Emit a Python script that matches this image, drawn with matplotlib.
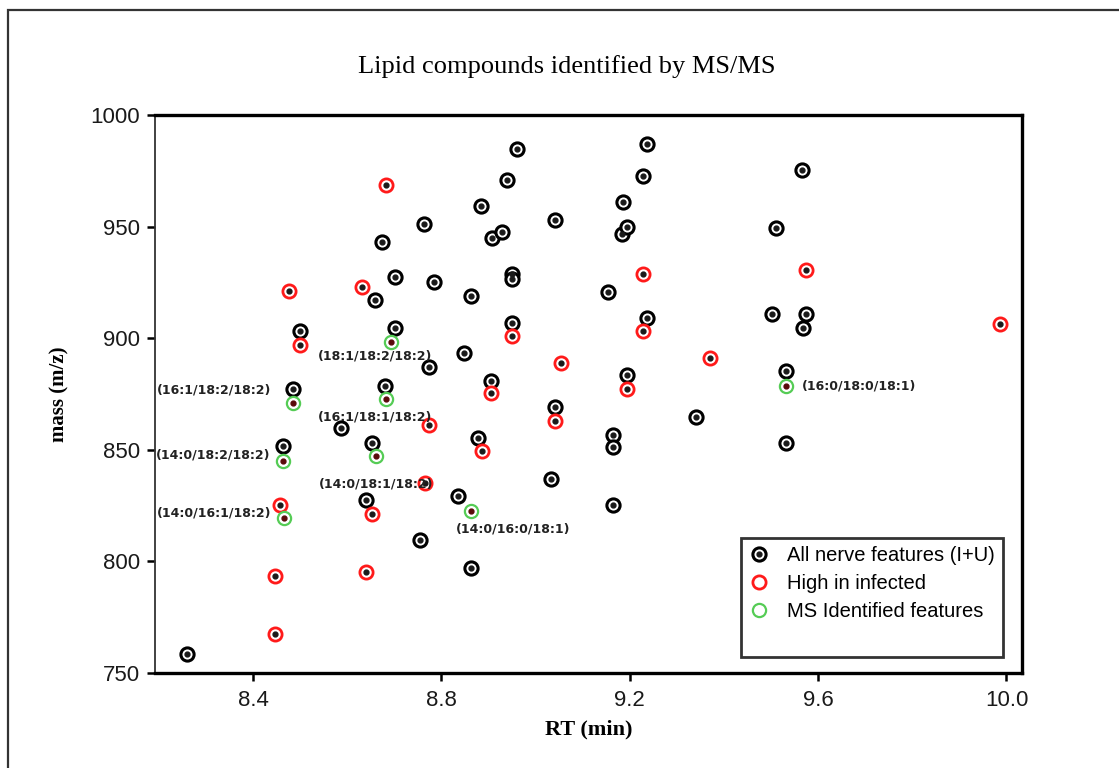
import matplotlib.pyplot as plt
from matplotlib.lines import Line2D
from matplotlib.patches import Rectangle

# all detected nerve features (RT in min, mass in m/z)
all_rt = [8.259, 8.499, 8.485, 8.464, 8.660, 8.674, 8.681, 8.702, 8.702, 8.764,
          8.785, 8.773, 8.754, 8.640, 8.652, 8.588, 8.848, 8.836, 8.864, 8.862,
          8.878, 8.885, 8.906, 8.907, 8.928, 8.940, 8.949, 8.949, 8.949, 8.961,
          9.032, 9.041, 9.041, 9.153, 9.164, 9.164, 9.164, 9.184, 9.186, 9.194,
          9.195, 9.228, 9.236, 9.236, 9.341, 9.503, 9.511, 9.531, 9.531, 9.566,
          9.575, 9.567]
all_mass = [758.5, 903.1, 877.2, 851.6, 917.3, 943.1, 878.7, 927.3, 904.7, 951.0,
            925.3, 887.1, 809.7, 827.4, 853.0, 859.6, 893.4, 829.2, 919.1, 796.9,
            855.2, 959.3, 880.9, 945.1, 947.7, 970.7, 928.8, 926.6, 906.8, 984.9,
            837.1, 952.9, 869.0, 920.8, 856.6, 851.1, 825.4, 946.7, 960.9, 883.4,
            949.7, 972.5, 986.9, 909.2, 864.6, 910.8, 949.4, 885.2, 853.0, 975.4,
            911.0, 904.7]

# features higher in infected nerves
inf_rt = [8.682, 8.477, 8.632, 8.499, 8.906, 8.773, 8.886, 8.766, 8.652, 8.457,
          8.949, 9.228, 9.228, 9.054, 9.371, 9.195, 9.041, 9.575, 9.987, 8.446,
          8.640, 8.446]
inf_mass = [968.8, 921.0, 922.8, 896.9, 875.4, 861.1, 849.3, 835.1, 821.1, 825.4,
            901.1, 928.9, 903.1, 888.8, 891.3, 877.1, 862.8, 930.6, 906.4, 793.3,
            795.1, 767.6]

# features identified by MS/MS
ms_rt = [8.694, 8.485, 8.682, 8.464, 8.661, 8.465, 8.864, 9.531]
ms_mass = [898.4, 871.0, 872.8, 845.1, 847.1, 819.4, 822.7, 878.7]
ms_labels = ["(18:1/18:2/18:2)", "(16:1/18:2/18:2)", "(16:1/18:1/18:2)",
             "(14:0/18:2/18:2)", "(14:0/18:1/18:2)", "(14:0/16:1/18:2)",
             "(14:0/16:0/18:1)", "(16:0/18:0/18:1)"]
# where each label sits relative to its point (points, alignment)
label_pos = [(-12, -10, "center"), (-16, 9, "right"), (-8, -13, "center"),
             (-9, 4, "right"), (0, -20, "center"), (-9, 4, "right"),
             (30, -13, "center"), (12, 0, "left")]

fig = plt.figure(figsize=(11.19, 7.68), dpi=100)
ax = fig.add_axes([155 / 1119, 1 - 673 / 768, 867 / 1119, 558 / 768])

# outer frame
fig.patches.append(Rectangle((8 / 1119, -0.1), 1.2, 1 - 10 / 768 + 0.1,
                             transform=fig.transFigure, fill=False,
                             edgecolor="#333333", linewidth=1.6))

ring = dict(linestyle="none", marker="o", markersize=9.5)
dot = dict(linestyle="none", marker="o", markersize=3.5, color="#1a1a1a")

ax.plot(all_rt, all_mass, mfc="white", mec="black", mew=2.2, **ring)
ax.plot(all_rt, all_mass, **dot)
ax.plot(inf_rt, inf_mass, mfc="white", mec="#ff1a1a", mew=2.0, **ring)
ax.plot(inf_rt, inf_mass, **dot)
ax.plot(ms_rt, ms_mass, mfc="white", mec="#55cc55", mew=1.6, **ring)
ax.plot(ms_rt, ms_mass, linestyle="none", marker="o", markersize=3.5, color="#5a0a0a")

for x, y, lab, (dx, dy, ha) in zip(ms_rt, ms_mass, ms_labels, label_pos):
    ax.annotate(lab, (x, y), xytext=(dx, dy), textcoords="offset points",
                ha=ha, va="center", fontsize=9, fontweight="bold",
                color="#222222", family="DejaVu Sans")

ax.set_xlim(8.192, 10.033)
ax.set_ylim(750, 1000)
ax.set_xticks([8.4, 8.8, 9.2, 9.6, 10.0])
ax.set_xticklabels(["8.4", "8.8", "9.2", "9.6", "10.0"])
ax.set_yticks([750, 800, 850, 900, 950, 1000])

for side in ["top", "right", "bottom"]:
    ax.spines[side].set_linewidth(2.4)
    ax.spines[side].set_color("black")
ax.spines["left"].set_linewidth(1.3)
ax.spines["left"].set_color("#333333")

ax.tick_params(axis="both", direction="out", length=6, width=1.8,
               labelsize=16, colors="black")
ax.tick_params(axis="x", pad=6)
ax.tick_params(axis="y", pad=5)
for t in ax.get_xticklabels() + ax.get_yticklabels():
    t.set_family("Liberation Sans")
    t.set_color("#1a1a1a")

ax.set_xlabel("RT (min)", family="Liberation Serif", fontweight="bold",
              fontsize=16, labelpad=6)
ax.set_ylabel("mass (m/z)", family="Liberation Serif", fontweight="bold",
              fontsize=15, labelpad=15)
fig.text(567 / 1119, 1 - 67 / 768, "Lipid compounds identified by MS/MS",
         family="Liberation Serif", fontsize=19, ha="center", va="center")

# legend
h_all = (Line2D([], [], mfc="white", mec="black", mew=2.2, **ring), Line2D([], [], **dot))
h_inf = Line2D([], [], mfc="white", mec="#ff1a1a", mew=2.0, **ring)
h_ms = Line2D([], [], mfc="white", mec="#55cc55", mew=1.6, **ring)
h_blank = Line2D([], [], linestyle="none")
leg = ax.legend([h_all, h_inf, h_ms, h_blank],
                ["All nerve features (I+U)", "High in infected",
                 "MS Identified features", ""],
                loc="lower left", bbox_to_anchor=(741 / 1119, 1 - 657 / 768),
                bbox_transform=fig.transFigure, prop={"family": "Liberation Sans", "size": 14.5},
                frameon=True, fancybox=False, handlelength=1.0, handletextpad=0.9,
                labelspacing=0.45, borderpad=0.4, borderaxespad=0)
leg.get_frame().set_edgecolor("black")
leg.get_frame().set_linewidth(2.0)

fig.savefig("out.png", dpi=100)
